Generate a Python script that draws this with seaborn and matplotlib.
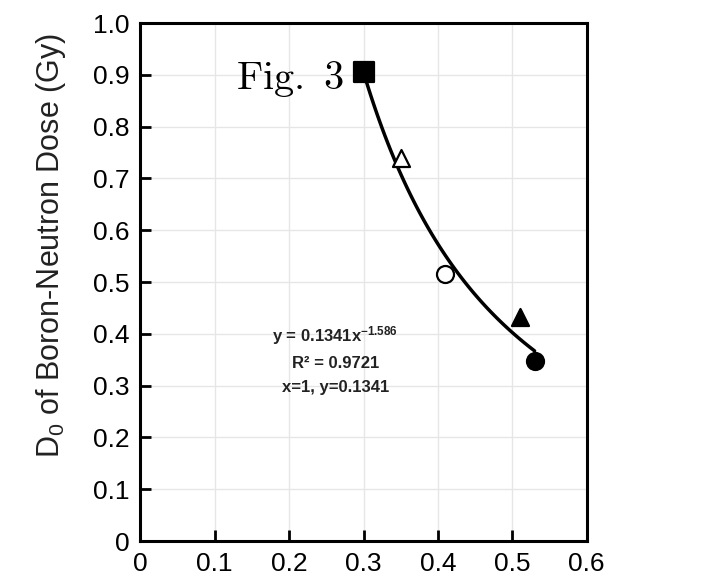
import numpy as np
import pandas as pd
import seaborn as sns
import matplotlib.pyplot as plt

# measured points (ratio vs D0)
x_vals = [0.30, 0.35, 0.41, 0.51, 0.53]
y_vals = [0.905, 0.74, 0.515, 0.432, 0.347]
markers = ['s', '^', 'o', '^', 'o']
filled = [True, False, False, True, True]

# power trendline as printed on the chart
fit_a = 0.1341
fit_b = -1.586
fit_x = np.linspace(0.30, 0.53, 100)

xticks = [0, 0.1, 0.2, 0.3, 0.4, 0.5, 0.6]
yticks = [0, 0.1, 0.2, 0.3, 0.4, 0.5, 0.6, 0.7, 0.8, 0.9, 1.0]
ytick_labels = ['0', '0.1', '0.2', '0.3', '0.4', '0.5', '0.6', '0.7', '0.8', '0.9', '1.0']

sns.set_style("white")
plt.rcParams['font.family'] = ['Liberation Sans', 'DejaVu Sans']
plt.rcParams['mathtext.fontset'] = 'custom'
plt.rcParams['mathtext.rm'] = 'Liberation Sans'
plt.rcParams['mathtext.it'] = 'Liberation Sans'
plt.rcParams['mathtext.bf'] = 'Liberation Sans:bold'

fig = plt.figure(figsize=(7.27, 5.78), dpi=100)
ax = fig.add_axes([0.193, 0.064, 0.614, 0.896])

curve = pd.DataFrame({'x': fit_x, 'y': fit_a * fit_x ** fit_b})
sns.lineplot(data=curve, x='x', y='y', color='black', linewidth=2.5, ax=ax, zorder=2)

for xv, yv, m, f in zip(x_vals, y_vals, markers, filled):
    sns.scatterplot(x=[xv], y=[yv], marker=m, s=190 if m == 's' else 150,
                    color='black' if f else 'white', edgecolor='black',
                    linewidth=1.6, ax=ax, zorder=3)

ax.set_xlim(0, 0.6)
ax.set_ylim(0, 1.0)
ax.set_xticks(xticks)
ax.set_xticklabels([str(t) for t in xticks])
ax.set_yticks(yticks)
ax.set_yticklabels(ytick_labels)
ax.grid(True, color='#e6e6e6', linewidth=1)
ax.set_axisbelow(True)
for s in ax.spines.values():
    s.set_color('black')
    s.set_linewidth(2.2)
ax.tick_params(direction='in', length=8, width=2, labelsize=19, colors='black',
               pad=8, top=False, right=False, left=True, bottom=True)
ax.set_xlabel('')
ax.set_ylabel('D$_0$ of Boron-Neutron Dose (Gy)', fontsize=22, color='#222222')
ax.yaxis.set_label_coords(-0.163, 0.57)

ax.text(0.262, 0.35, 'y = 0.1341x$^{\\mathbf{-1.586}}$\nR² = 0.9721\nx=1, y=0.1341',
        ha='center', va='center', fontsize=12, fontweight='bold', color='#222222',
        linespacing=1.75)
ax.text(0.129, 0.893, r'$\mathrm{Fig.\ 3}$', fontsize=29, ha='left', va='center',
        color='black', math_fontfamily='cm')

fig.savefig('out.png', dpi=100)
